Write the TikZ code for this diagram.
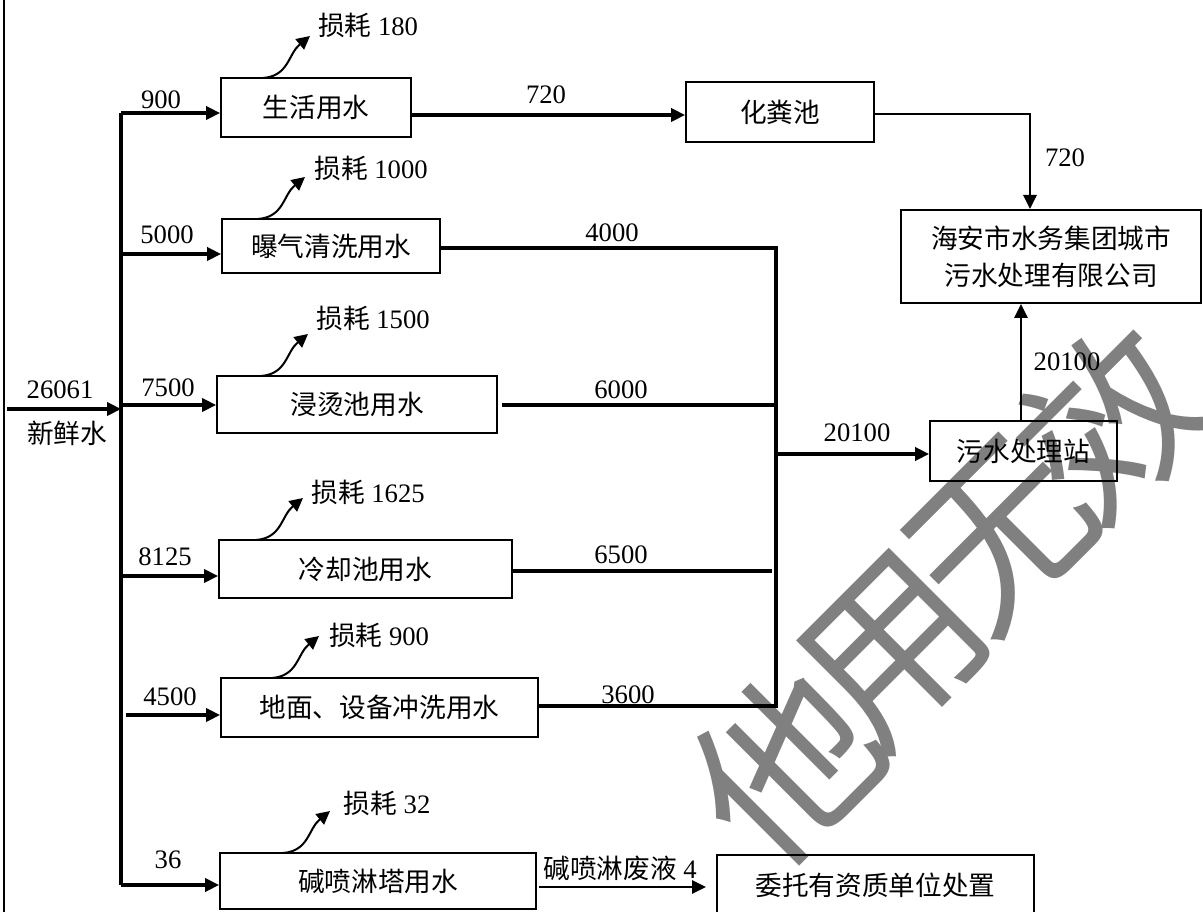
\documentclass[tikz,border=0pt]{standalone}
\usepackage{fontspec}
\setmainfont{Liberation Serif}
\newfontfamily\cjk{Noto Sans CJK SC}
\newfontfamily\wmfont{Noto Sans CJK SC}
\usetikzlibrary{arrows.meta}
\newcommand\myfs{\fontsize{20}{28}\selectfont}
\begin{document}
\begin{tikzpicture}[x=0.75pt,y=-0.75pt,
  box/.style={draw,line width=1.5pt,inner sep=0pt,font=\myfs\cjk,align=center},
  lab/.style={font=\myfs,inner sep=0pt},
  thick line/.style={line width=2.3pt},
  thin line/.style={line width=1.5pt},
  arr/.style={-{Triangle[length=10.5pt,width=10pt]},line width=2.3pt},
  tarr/.style={-{Triangle[length=10.5pt,width=10pt]},line width=1.5pt},
  wavy/.style={-{Triangle[length=10pt,width=10pt]},line width=1.5pt},
  wm/.style={font=\fontsize{134}{134}\selectfont\wmfont,text=black!50,rotate=45,inner sep=0pt}]
\useasboundingbox (0,0) rectangle (1203,912);
\clip (0,0) rectangle (1203,912);
\fill[white] (0,0) rectangle (1203,912);

% watermark
\node[wm] (wm1) at (785,765) {他};
\node[wm] (wm2) at (894,651) {用};
\node[wm] (wm3) at (1003,536) {无};
\node[wm] (wm4) at (1112,422) {效};

% left border
\coordinate (bt) at (4,0);
\coordinate (bb) at (4,912);
\draw[line width=1.5pt] (bt) -- (bb);

% boxes
\node[box,minimum width=142.5pt,minimum height=44.25pt] (b1) at (316,107.5) {生活用水};
\node[box,minimum width=141pt,minimum height=45pt] (b2) at (780,112) {化粪池};
\node[box,minimum width=225pt,minimum height=69.75pt] (b3) at (1051,256.5) {海安市水务集团城市\\污水处理有限公司};
\node[box,minimum width=163.5pt,minimum height=40.5pt] (b4) at (331,246) {曝气清洗用水};
\node[box,minimum width=210pt,minimum height=42.75pt] (b5) at (357,404.5) {浸烫池用水};
\node[box,minimum width=140.25pt,minimum height=45pt] (b6) at (1023.5,451) {污水处理站};
\node[box,minimum width=219.75pt,minimum height=43.5pt] (b7) at (365.5,569) {冷却池用水};
\node[box,minimum width=237.75pt,minimum height=44.25pt] (b8) at (379.5,707.5) {地面、设备冲洗用水};
\node[box,minimum width=237pt,minimum height=42pt] (b9) at (378,881) {碱喷淋塔用水};
\node[box,minimum width=237.75pt,minimum height=45pt] (b10) at (875.5,885) {委托有资质单位处置};

% trunk
\coordinate (src) at (7,409);
\coordinate (tTop) at (121,113);
\coordinate (tBot) at (121,885);
\coordinate (y5000) at (121,254);
\coordinate (y7500) at (121,405);
\coordinate (y8125) at (121,576);
\coordinate (y4500) at (126,715);
\draw[thick line] (tTop) -- (tBot);
\draw[arr] (src) -- (src -| tTop);
\draw[arr] (tTop) -- (tTop -| b1.west);
\draw[arr] (y5000) -- (y5000 -| b4.west);
\draw[arr] (y7500) -- (y7500 -| b5.west);
\draw[arr] (y8125) -- (y8125 -| b7.west);
\draw[arr] (y4500) -- (y4500 -| b8.west);
\draw[arr] (tBot) -- (tBot -| b9.west);

% upper chain
\coordinate (r1) at (411,115);
\draw[arr] (r1) -- (r1 -| b2.west);
\coordinate (c720) at (1030,114);
\draw[tarr] (c720 -| b2.east) -- (c720) -- (c720 |- b3.north);

% collector
\coordinate (col4000) at (776,248);
\coordinate (col6000) at (776,405);
\coordinate (e6500) at (772,571);
\coordinate (col3600) at (776,706);
\coordinate (s6000) at (502,405);
\coordinate (s6500) at (513,571);
\draw[thick line] (col4000 -| b4.east) -- (col4000) -- (col3600) -- (col3600 -| b8.east);
\draw[thick line] (s6000) -- (col6000);
\draw[thick line] (s6500) -- (e6500);
\coordinate (h201) at (778,454);
\draw[arr] (h201) -- (h201 -| b6.west);
\coordinate (v201) at (1021,421);
\draw[tarr] (v201 |- b6.north) -- (v201 |- b3.south);

% bottom
\coordinate (s4) at (539,887);
\coordinate (e4) at (706,887);
\draw[tarr] (s4) -- (e4);

% loss arrows
\foreach \n/\sx/\sy in {1/263/78, 2/258/219, 3/261/376, 4/256/540, 5/272/678, 6/283/853}{
  \coordinate (ws\n) at (\sx,\sy);
  \coordinate (we\n) at (\sx+47,\sy-42);
  \draw[wavy] (ws\n) .. controls +(26,-2) and +(-22,18) .. (we\n);
}

% labels
\node[lab] (l180) at (368,25) {{\cjk 损耗} 180};
\node[lab] (l1000) at (371,168) {{\cjk 损耗} 1000};
\node[lab] (l1500) at (373,318) {{\cjk 损耗} 1500};
\node[lab] (l1625) at (368,492) {{\cjk 损耗} 1625};
\node[lab] (l900) at (379,635) {{\cjk 损耗} 900};
\node[lab] (l32) at (387,803) {{\cjk 损耗} 32};
\node[lab] (n900) at (161,100) {900};
\node[lab] (n720a) at (546,95) {720};
\node[lab] (n720b) at (1065,158) {720};
\node[lab] (n5000) at (167,235) {5000};
\node[lab] (n4000) at (612,233) {4000};
\node[lab] (n26061) at (60,390) {26061};
\node[lab,font=\myfs\cjk] (nfresh) at (67,433) {新鲜水};
\node[lab] (n7500) at (168,388) {7500};
\node[lab] (n6000) at (621,390) {6000};
\node[lab] (n20100a) at (857,433) {20100};
\node[lab] (n20100b) at (1067,362) {20100};
\node[lab] (n8125) at (165,557) {8125};
\node[lab] (n6500) at (621,555) {6500};
\node[lab] (n4500) at (170,697) {4500};
\node[lab] (n3600) at (628,695) {3600};
\node[lab] (n36) at (168,860) {36};
\node[lab] (nwaste) at (620,868) {{\cjk 碱喷淋废液} 4};
\end{tikzpicture}
\end{document}
